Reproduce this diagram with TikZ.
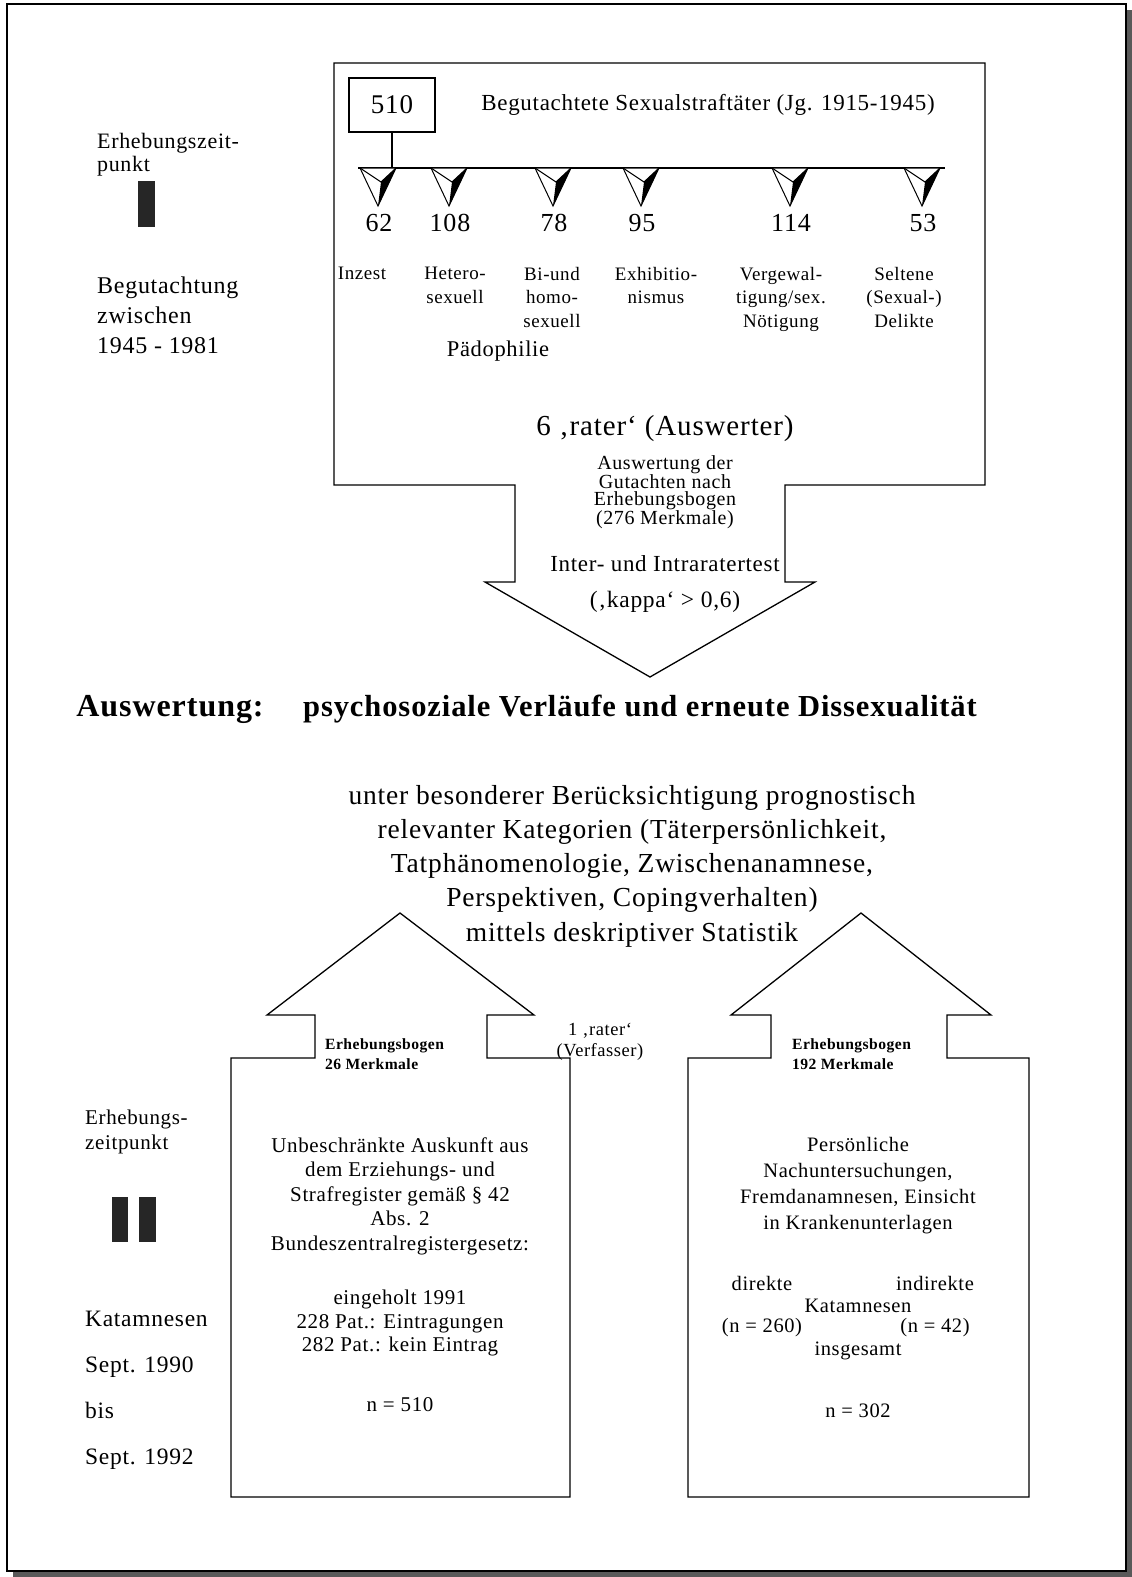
\documentclass[tikz,border=0pt]{standalone}
\usepackage{fontspec}
\setmainfont{Liberation Serif}[LetterSpace=3]
\begin{document}
\begin{tikzpicture}[x=1pt,y=-1pt,line join=miter,
  outline/.style={draw=black,line width=1.3pt,fill=white},
  txt/.style={inner sep=0pt,align=center},
  fs/.style 2 args={txt,font=\fontsize{#1}{#2}\selectfont},
  ebb/.style={txt,font=\fontsize{15.6}{20}\selectfont\bfseries},
  lab/.style={txt,font=\fontsize{19}{23.5}\selectfont},
  num/.style={txt,font=\fontsize{26}{30}\selectfont},
  bar/.style={fill=black!85},
  tri/.pic={
    \draw[line width=1pt,fill=white] (-18,0) -- (18,0) -- (0,38) -- cycle;
    \fill (3,14) -- (18,0) -- (0,38) -- cycle;
    \draw[line width=1pt] (-18,0) -- (3,14) -- (18,0);
  }]
\useasboundingbox (0,0) rectangle (1132,1577);
% frame with shadow
\fill[black!65] (13,10) rectangle (1132,1577);
\draw[fill=white,line width=1.5pt] (7,4) rectangle (1126,1571);

% ---------- top arrow ----------
\draw[outline] (334,63) -- (985,63) -- (985,485) -- (785,485) -- (785,582) -- (815,582)
  -- (650,677) -- (485,582) -- (515,582) -- (515,485) -- (334,485) -- cycle;

\node[draw,line width=1.2pt,minimum width=86pt,minimum height=54pt,inner sep=0pt,
  font=\fontsize{27}{30}\selectfont] (total) at (392,105) {510};
\node[fs={23}{26}] (title) at (708,105) {Begutachtete Sexualstraftäter (Jg. 1915-1945)};
\coordinate (lineL) at (358,168);
\coordinate (lineR) at (945,168);
\coordinate (join) at (392,168);
\draw[line width=1.3pt] (lineL) -- (lineR);
\draw[line width=1.2pt] (total.south) -- (join);

\foreach \x/\n [count=\i] in {378/62,449/108,553/78,641/95,790/114,922/53}{
  \pic (t\i) at (\x,168) {tri};
  \node[num] (n\i) at (\x+1,223) {\n};
}
\node[lab,anchor=north] (c1) at (362,267) {Inzest};
\node[lab,anchor=north] (c2) at (455,267) {Hetero-\\sexuell};
\node[lab,anchor=north] (c3) at (552,267) {Bi-und\\homo-\\sexuell};
\node[lab,anchor=north] (c4) at (656,267) {Exhibitio-\\nismus};
\node[lab,anchor=north] (c5) at (781,267) {Vergewal-\\tigung/sex.\\Nötigung};
\node[lab,anchor=north] (c6) at (904,267) {Seltene\\(Sexual-)\\Delikte};
\node[fs={22.5}{24}] (paedo) at (498,351) {Pädophilie};

\node[fs={29}{32}] (raters) at (665,429) {6 ‚rater‘ (Auswerter)};
\node[fs={20}{17}] (ausw) at (665,492) {Auswertung der\\Gutachten nach\\Erhebungsbogen\\(276 Merkmale)};
\node[fs={23}{26}] (inter) at (665,564) {Inter- und Intraratertest};
\node[fs={23.5}{26}] (kappa) at (665,602) {(‚kappa‘ > 0,6)};

% ---------- left column, top ----------
\node[txt,align=left,anchor=west,font=\fontsize{22}{23}\selectfont] (ez1) at (97,155) {Erhebungszeit-\\punkt};
\fill[bar] (138,181) rectangle (155,227);
\node[txt,align=left,anchor=west,font=\fontsize{24}{30}\selectfont] (beg) at (97,315) {Begutachtung\\zwischen\\1945 - 1981};

% ---------- headline ----------
\node[txt,font=\fontsize{32}{34}\selectfont\bfseries] (h1) at (170,709) {Auswertung:};
\node[txt,font=\fontsize{30.5}{34}\selectfont\bfseries] (h2) at (640,709) {psychosoziale Verläufe und erneute Dissexualität};

\node[fs={27.5}{34.25}] (mid) at (632,866) {unter besonderer Berücksichtigung prognostisch\\relevanter Kategorien (Täterpersönlichkeit,\\Tatphänomenologie, Zwischenanamnese,\\Perspektiven, Copingverhalten)\\mittels deskriptiver Statistik};

% ---------- lower arrows ----------
\draw[outline] (400,913) -- (534,1015) -- (487,1015) -- (487,1058) -- (570,1058)
  -- (570,1497) -- (231,1497) -- (231,1058) -- (315,1058) -- (315,1015) -- (267,1015) -- cycle;
\draw[outline] (861,913) -- (991,1015) -- (947,1015) -- (947,1058) -- (1029,1058)
  -- (1029,1497) -- (688,1497) -- (688,1058) -- (771,1058) -- (771,1015) -- (731,1015) -- cycle;

\node[fs={18.5}{21}] (rater1) at (600,1042) {1 ‚rater‘\\(Verfasser)};
\node[ebb,align=left,anchor=west] (eb1) at (325,1054) {Erhebungsbogen\\26 Merkmale};
\node[ebb,align=left,anchor=west] (eb2) at (792,1054) {Erhebungsbogen\\192 Merkmale};

\node[fs={21}{24.5}] (lb1) at (400,1196) {Unbeschränkte Auskunft aus\\dem Erziehungs- und\\Strafregister gemäß § 42\\Abs. 2\\Bundeszentralregistergesetz:};
\node[fs={21}{23.5}] (lb2) at (400,1323) {eingeholt 1991\\228 Pat.: Eintragungen\\282 Pat.: kein Eintrag};
\node[fs={21}{24}] (lb3) at (400,1405) {n = 510};

\node[fs={20.5}{26}] (rb1) at (858,1186) {Persönliche\\Nachuntersuchungen,\\Fremdanamnesen, Einsicht\\in Krankenunterlagen};
\node[fs={20.5}{24}] (rb2) at (762,1283) {direkte};
\node[fs={20.5}{24}] (rb3) at (935,1283) {indirekte};
\node[fs={20.5}{24}] (rb4) at (858,1306) {Katamnesen};
\node[fs={20.5}{24}] (rb5) at (762,1328) {(n = 260)};
\node[fs={20.5}{24}] (rb6) at (935,1328) {(n = 42)};
\node[fs={20.5}{24}] (rb7) at (858,1351) {insgesamt};
\node[fs={20.5}{24}] (rb8) at (858,1411) {n = 302};

% ---------- left column, bottom ----------
\node[txt,align=left,anchor=west,font=\fontsize{21}{25}\selectfont] (ez2) at (85,1132) {Erhebungs-\\zeitpunkt};
\fill[bar] (112,1197) rectangle (128,1242);
\fill[bar] (139,1197) rectangle (156,1242);
\node[txt,align=left,anchor=west,font=\fontsize{23.5}{46}\selectfont] (kat) at (85,1390) {Katamnesen\\Sept. 1990\\bis\\Sept. 1992};
\end{tikzpicture}
\end{document}
